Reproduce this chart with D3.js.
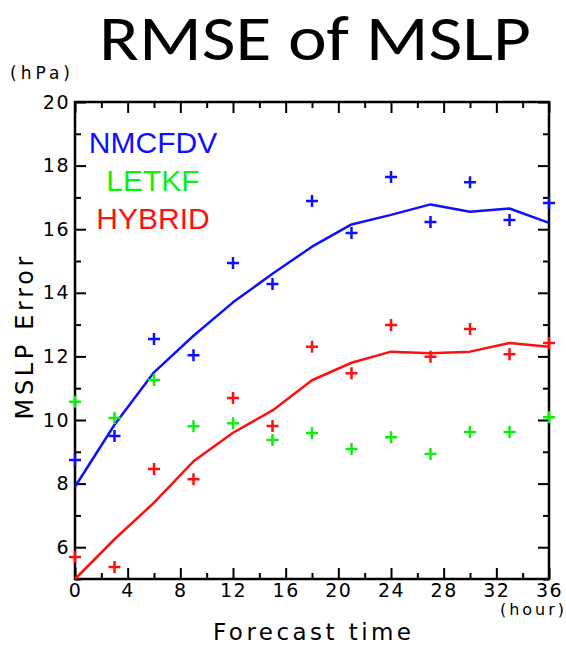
<!DOCTYPE html>
<html>
<head>
<meta charset="utf-8">
<script src="https://cdn.jsdelivr.net/npm/d3@7"></script>
<style>
  body { margin: 0; background: #fff; }
  svg { display: block; }
</style>
</head>
<body>
<div id="chart"></div>
<script>
// forecast hours
var hours = [0, 3, 6, 9, 12, 15, 18, 21, 24, 27, 30, 33, 36];

// smoothed lines
var nmcfdvLine = [7.9, 9.85, 11.5, 12.65, 13.7, 14.6, 15.45, 16.15, 16.45, 16.78, 16.55, 16.65, 16.2];
var hybridLine = [5.0, 6.25, 7.4, 8.7, 9.6, 10.3, 11.25, 11.8, 12.15, 12.1, 12.15, 12.42, 12.3];

// plus markers
var nmcfdvPts = [8.74, 9.5, 12.55, 12.04, 14.94, 14.28, 16.89, 15.88, 17.64, 16.23, 17.48, 16.29, 16.82];
var letkfPts  = [10.57, 10.06, 11.26, 9.8, 9.9, 9.37, 9.59, 9.09, 9.46, 8.93, 9.62, 9.62, 10.09];
var hybridPts = [5.69, 5.38, 8.46, 8.14, 10.69, 9.81, 12.3, 11.47, 12.99, 11.99, 12.86, 12.07, 12.42];

var legendNames = ["NMCFDV", "LETKF", "HYBRID"];
var xMajor = [0, 4, 8, 12, 16, 20, 24, 28, 32, 36];
var xMinor = [2, 6, 10, 14, 18, 22, 26, 30, 34];
var yMajor = [6, 8, 10, 12, 14, 16, 18, 20];
var yMinor = [5, 7, 9, 11, 13, 15, 17, 19];

var colours = {
    "NMCFDV": "#1010ff",
    "LETKF": "#10ee10",
    "HYBRID": "#ff1010"
}

var width = 566, height = 647;
var svg = d3.select("#chart").append("svg")
    .attr("width", width)
    .attr("height", height);

var x = d3.scaleLinear().domain([0, 36]).range([75, 549]);
var y = d3.scaleLinear().domain([5, 20]).range([579, 102]);

// title
svg.append("text")
    .attr("x", 315).attr("y", 60)
    .attr("text-anchor", "middle")
    .attr("textLength", 432).attr("lengthAdjust", "spacingAndGlyphs")
    .style("font-family", "Carlito, 'Liberation Sans', Arial, sans-serif")
    .style("font-size", "64px")
    .text("RMSE of MSLP");

var tickFont = "'DejaVu Sans', sans-serif";

function styleAxis(g) {
    g.select(".domain").remove();
    g.selectAll(".tick line").attr("stroke", "#000").attr("stroke-width", 2);
    g.selectAll(".tick text")
        .style("font-family", tickFont)
        .style("font-size", "19px")
        .style("letter-spacing", "1.5px")
        .attr("fill", "#000");
}

// bottom axis
svg.append("g").attr("transform", "translate(0,579)")
    .call(d3.axisBottom(x).tickValues(xMajor).tickSize(-11).tickPadding(4).tickFormat(d3.format("d")))
    .call(styleAxis);
svg.append("g").attr("transform", "translate(0,579)")
    .call(d3.axisBottom(x).tickValues(xMinor).tickSize(-6).tickFormat(""))
    .call(styleAxis);
// top axis
svg.append("g").attr("transform", "translate(0,102)")
    .call(d3.axisTop(x).tickValues(xMajor).tickSize(-11).tickFormat(""))
    .call(styleAxis);
svg.append("g").attr("transform", "translate(0,102)")
    .call(d3.axisTop(x).tickValues(xMinor).tickSize(-6).tickFormat(""))
    .call(styleAxis);
// left axis
svg.append("g").attr("transform", "translate(75,0)")
    .call(d3.axisLeft(y).tickValues(yMajor).tickSize(-11).tickPadding(5).tickFormat(d3.format("d")))
    .call(styleAxis);
svg.append("g").attr("transform", "translate(75,0)")
    .call(d3.axisLeft(y).tickValues(yMinor).tickSize(-6).tickFormat(""))
    .call(styleAxis);
// right axis
svg.append("g").attr("transform", "translate(549,0)")
    .call(d3.axisRight(y).tickValues(yMajor).tickSize(-11).tickFormat(""))
    .call(styleAxis);
svg.append("g").attr("transform", "translate(549,0)")
    .call(d3.axisRight(y).tickValues(yMinor).tickSize(-6).tickFormat(""))
    .call(styleAxis);

// frame
svg.append("rect")
    .attr("x", x(0)).attr("y", y(20))
    .attr("width", x(36) - x(0)).attr("height", y(5) - y(20))
    .attr("fill", "none").attr("stroke", "#000").attr("stroke-width", 2.5);

// lines
var line = d3.line()
    .x(function (d, i) { return x(hours[i]) })
    .y(function (d) { return y(d) });

[["NMCFDV", nmcfdvLine], ["HYBRID", hybridLine]].forEach(function (s) {
    svg.append("path")
        .attr("d", line(s[1]))
        .attr("fill", "none")
        .attr("stroke", colours[s[0]])
        .attr("stroke-width", 2.5)
        .attr("stroke-linejoin", "round");
});

// plus markers
function plusPath(cx, cy) {
    var a = 6;
    return "M" + (cx - a) + "," + cy + "H" + (cx + a) + "M" + cx + "," + (cy - a) + "V" + (cy + a);
}
[["NMCFDV", nmcfdvPts], ["LETKF", letkfPts], ["HYBRID", hybridPts]].forEach(function (s) {
    svg.append("g").selectAll("path")
        .data(s[1])
        .enter()
        .append("path")
        .attr("d", function (d, i) { return plusPath(x(hours[i]), y(d)) })
        .attr("stroke", colours[s[0]])
        .attr("stroke-width", 2.5)
        .attr("fill", "none");
});

// legend
svg.append("g").selectAll("text")
    .data(legendNames)
    .enter()
    .append("text")
    .attr("x", 153)
    .attr("y", function (d, i) { return 153 + i * 38 })
    .attr("text-anchor", "middle")
    .style("font-family", "'Liberation Sans', Arial, sans-serif")
    .style("font-size", "30px")
    .attr("fill", function (d) { return colours[d] })
    .text(function (d) { return d });

// axis titles and units
svg.append("text")
    .attr("transform", "translate(33,338) rotate(-90)")
    .attr("text-anchor", "middle")
    .attr("textLength", 163).attr("lengthAdjust", "spacing")
    .style("font-family", tickFont)
    .style("font-size", "24px")
    .text("MSLP Error");

svg.append("text")
    .attr("x", 312).attr("y", 640)
    .attr("text-anchor", "middle")
    .attr("textLength", 198).attr("lengthAdjust", "spacing")
    .style("font-family", tickFont)
    .style("font-size", "23px")
    .text("Forecast time");

svg.append("text")
    .attr("x", 40).attr("y", 79)
    .attr("text-anchor", "middle")
    .attr("textLength", 60).attr("lengthAdjust", "spacing")
    .style("font-family", tickFont)
    .style("font-size", "17px")
    .text("(hPa)");

svg.append("text")
    .attr("x", 532).attr("y", 615)
    .attr("text-anchor", "middle")
    .attr("textLength", 64).attr("lengthAdjust", "spacing")
    .style("font-family", tickFont)
    .style("font-size", "16px")
    .text("(hour)");
</script>
</body>
</html>
